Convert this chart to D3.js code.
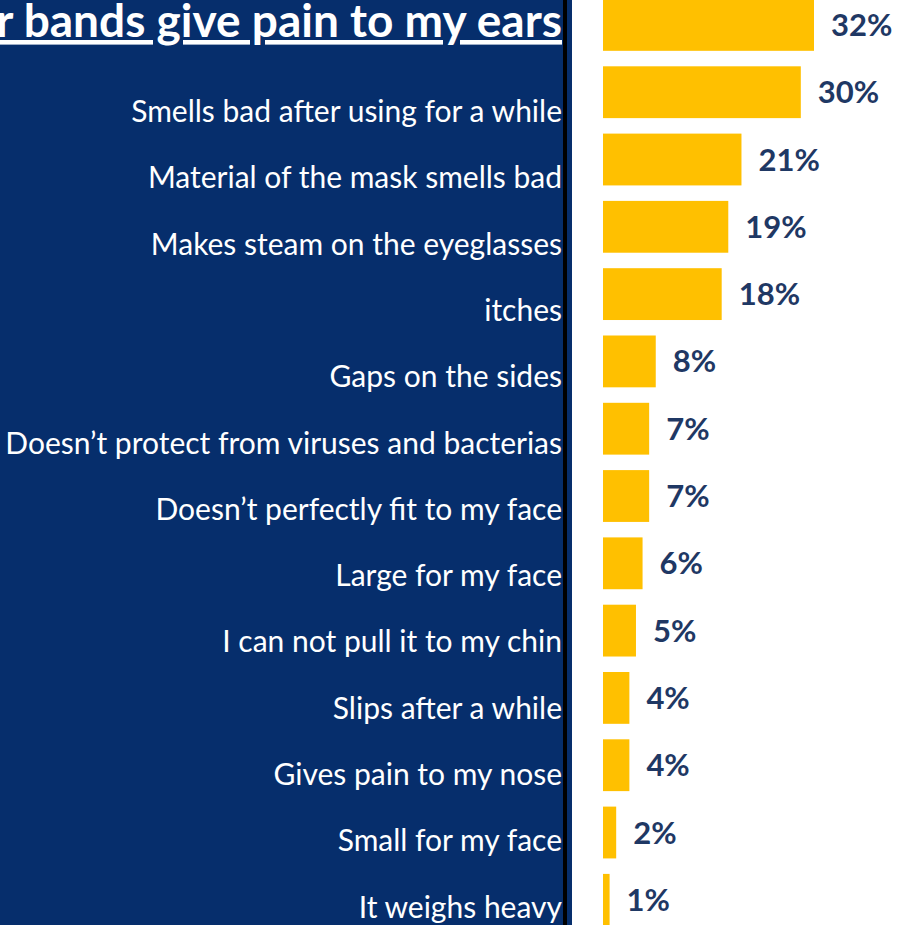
<!DOCTYPE html>
<html>
<head>
<meta charset="utf-8">
<script src="https://cdn.jsdelivr.net/npm/d3@7"></script>
<style>
  html, body { margin: 0; padding: 0; background: #fff; overflow: hidden; }
</style>
</head>
<body>
<div class="svg-container"></div>
<script>
var categories = [
  "Ear bands give pain to my ears",
  "Smells bad after using for a while",
  "Material of the mask smells bad",
  "Makes steam on the eyeglasses",
  "itches",
  "Gaps on the sides",
  "Doesn\u2019t protect from viruses and bacterias",
  "Doesn\u2019t perfectly fit to my face",
  "Large for my face",
  "I can not pull it to my chin",
  "Slips after a while",
  "Gives pain to my nose",
  "Small for my face",
  "It weighs heavy"
];
var values = [32, 30, 21, 19, 18, 8, 7, 7, 6, 5, 4, 4, 2, 1];

var width = 901, height = 925;
var navy = "#062e6c", gold = "#ffc000", ink = "#1f3864";

var svg = d3.select('.svg-container').append('svg')
  .attr('width', width)
  .attr('height', height);

// left panel with the labels
svg.append('rect')
  .attr('x', 0).attr('y', 0)
  .attr('width', 572).attr('height', height)
  .attr('fill', navy);
svg.append('rect')
  .attr('x', 563).attr('y', 0)
  .attr('width', 4).attr('height', height)
  .attr('fill', '#000');

var x = d3.scaleLinear().domain([0, 32]).range([0, 211]);

var step = 67.3, pad = 0.23;
var y = d3.scaleBand()
  .domain(categories)
  .range([-1, -1 + step * (categories.length - pad)])
  .paddingInner(pad)
  .paddingOuter(0);

// label rows sit on their own grid
var yl = d3.scalePoint()
  .domain(categories)
  .range([55.7, 917.6]);

var x0 = 603;

svg.selectAll('.bar')
  .data(values)
  .enter().append('rect')
  .attr('class', 'bar')
  .attr('x', x0)
  .attr('y', function(d, i) { return y(categories[i]); })
  .attr('width', function(d) { return x(d); })
  .attr('height', y.bandwidth())
  .attr('fill', gold);

svg.selectAll('.val')
  .data(values)
  .enter().append('text')
  .attr('class', 'val')
  .attr('x', function(d) { return x0 + x(d) + 17; })
  .attr('y', function(d, i) { return y(categories[i]) + y.bandwidth() / 2 + 11; })
  .attr('font-family', 'Lato')
  .attr('font-weight', 'bold')
  .attr('font-size', 31)
  .attr('fill', ink)
  .text(function(d) { return d + '%'; });

svg.selectAll('.cat')
  .data(categories.slice(1))
  .enter().append('text')
  .attr('class', 'cat')
  .attr('x', 562)
  .attr('y', function(d) { return yl(d); })
  .attr('text-anchor', 'end')
  .attr('font-family', 'Lato')
  .attr('font-size', 30)
  .attr('fill', '#fff')
  .text(function(d) { return d; });

svg.append('text')
  .attr('x', 562)
  .attr('y', 37)
  .attr('text-anchor', 'end')
  .attr('font-family', 'Lato')
  .attr('font-weight', 'bold')
  .attr('font-size', 46)
  .attr('fill', '#fff')
  .attr('text-decoration', 'underline')
  .text(categories[0]);
</script>
</body>
</html>
